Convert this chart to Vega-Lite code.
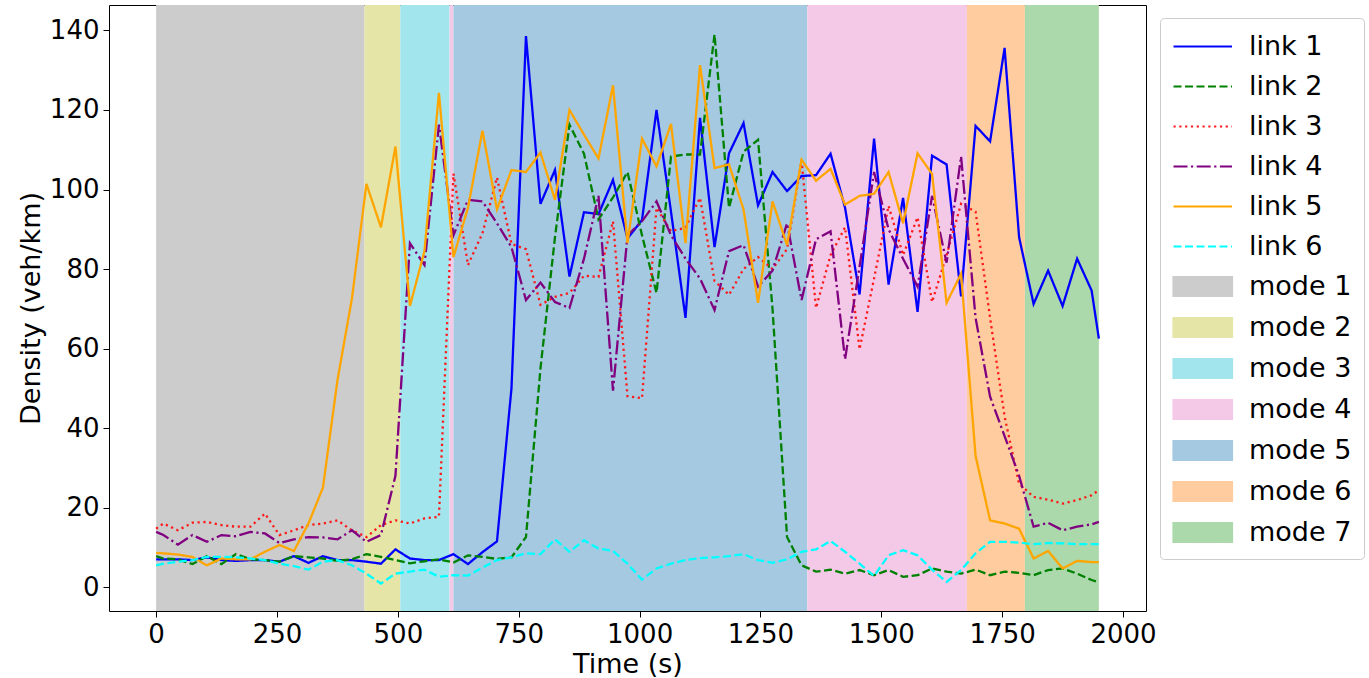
{
  "$schema": "https://vega.github.io/schema/vega-lite/v6.json",
  "width": 1037,
  "height": 606,
  "autosize": {"type": "none"},
  "padding": {"left": 109, "top": 5, "right": 223, "bottom": 67},
  "config": {
    "font": "DejaVu Sans",
    "view": {"stroke": "#000000", "strokeWidth": 1},
    "axis": {"grid": false, "domain": false, "labelFont": "DejaVu Sans", "titleFont": "DejaVu Sans", "labelFontSize": 26, "titleFontSize": 27, "titleFontWeight": "normal", "labelColor": "#000000", "titleColor": "#000000", "tickColor": "#000000", "tickSize": 6, "labelPadding": 4}
  },
  "datasets": {
    "bands": [
      {"series": "mode 1", "start": 0, "end": 431},
      {"series": "mode 2", "start": 431, "end": 505},
      {"series": "mode 3", "start": 505, "end": 607},
      {"series": "mode 4", "start": 607, "end": 615},
      {"series": "mode 5", "start": 615, "end": 1347},
      {"series": "mode 4", "start": 1347, "end": 1677},
      {"series": "mode 6", "start": 1677, "end": 1797},
      {"series": "mode 7", "start": 1797, "end": 1950}
    ],
    "density": [
      {"t": 0, "link 1": 7.0, "link 2": 7.8, "link 3": 14.7, "link 4": 13.9, "link 5": 8.6, "link 6": 5.5},
      {"t": 15, "link 1": 7.0, "link 2": 7.2, "link 3": 16.0, "link 4": 13.1, "link 5": 8.5, "link 6": 5.9},
      {"t": 45, "link 1": 7.0, "link 2": 7.0, "link 3": 14.3, "link 4": 10.7, "link 5": 8.2, "link 6": 6.4},
      {"t": 75, "link 1": 6.8, "link 2": 5.8, "link 3": 16.2, "link 4": 13.1, "link 5": 7.6, "link 6": 6.8},
      {"t": 105, "link 1": 7.5, "link 2": 7.8, "link 3": 16.4, "link 4": 11.4, "link 5": 5.5, "link 6": 7.6},
      {"t": 135, "link 1": 6.8, "link 2": 5.8, "link 3": 15.6, "link 4": 13.1, "link 5": 7.2, "link 6": 7.6},
      {"t": 165, "link 1": 6.6, "link 2": 8.3, "link 3": 15.2, "link 4": 12.8, "link 5": 7.0, "link 6": 7.5},
      {"t": 195, "link 1": 6.8, "link 2": 7.0, "link 3": 15.2, "link 4": 13.9, "link 5": 7.0, "link 6": 7.2},
      {"t": 225, "link 1": 6.8, "link 2": 6.8, "link 3": 18.5, "link 4": 13.5, "link 5": 8.9, "link 6": 6.8},
      {"t": 255, "link 1": 6.4, "link 2": 6.4, "link 3": 13.1, "link 4": 11.1, "link 5": 10.6, "link 6": 5.9},
      {"t": 285, "link 1": 7.8, "link 2": 7.8, "link 3": 14.3, "link 4": 12.0, "link 5": 9.1, "link 6": 5.3},
      {"t": 315, "link 1": 6.1, "link 2": 7.5, "link 3": 15.6, "link 4": 12.6, "link 5": 16, "link 6": 4.4},
      {"t": 345, "link 1": 7.8, "link 2": 7.2, "link 3": 16.0, "link 4": 12.5, "link 5": 25, "link 6": 6.4},
      {"t": 375, "link 1": 6.8, "link 2": 6.6, "link 3": 16.8, "link 4": 12.0, "link 5": 52, "link 6": 6.8},
      {"t": 405, "link 1": 6.8, "link 2": 7.0, "link 3": 14.3, "link 4": 14.3, "link 5": 72.6, "link 6": 5.5},
      {"t": 435, "link 1": 6.4, "link 2": 8.3, "link 3": 12.6, "link 4": 11.4, "link 5": 101.4, "link 6": 3.4},
      {"t": 465, "link 1": 5.9, "link 2": 7.6, "link 3": 15.6, "link 4": 13.1, "link 5": 90.5, "link 6": 0.9},
      {"t": 495, "link 1": 9.5, "link 2": 6.8, "link 3": 16.8, "link 4": 28, "link 5": 110.8, "link 6": 3.4},
      {"t": 525, "link 1": 7.2, "link 2": 6.0, "link 3": 16.0, "link 4": 86.5, "link 5": 70.7, "link 6": 3.9},
      {"t": 555, "link 1": 6.8, "link 2": 6.5, "link 3": 17.3, "link 4": 81, "link 5": 84.5, "link 6": 4.4},
      {"t": 585, "link 1": 6.8, "link 2": 7.0, "link 3": 17.7, "link 4": 116.3, "link 5": 124.3, "link 6": 2.6},
      {"t": 615, "link 1": 8.3, "link 2": 6.2, "link 3": 104, "link 4": 88.5, "link 5": 83, "link 6": 3.0},
      {"t": 645, "link 1": 5.8, "link 2": 8.0, "link 3": 81, "link 4": 97.4, "link 5": 95.4, "link 6": 2.9},
      {"t": 675, "link 1": 8.8, "link 2": 7.6, "link 3": 89, "link 4": 97, "link 5": 114.8, "link 6": 4.9},
      {"t": 705, "link 1": 11.5, "link 2": 7.1, "link 3": 103, "link 4": 91.5, "link 5": 95, "link 6": 6.8},
      {"t": 735, "link 1": 50, "link 2": 7.5, "link 3": 86.3, "link 4": 85.5, "link 5": 104.9, "link 6": 7.5},
      {"t": 765, "link 1": 138.6, "link 2": 12.6, "link 3": 85, "link 4": 72.2, "link 5": 104.4, "link 6": 8.5},
      {"t": 795, "link 1": 96.4, "link 2": 55, "link 3": 71, "link 4": 76.6, "link 5": 109.3, "link 6": 8.3},
      {"t": 825, "link 1": 104.9, "link 2": 88, "link 3": 73, "link 4": 71.7, "link 5": 97.4, "link 6": 12.0},
      {"t": 855, "link 1": 78.1, "link 2": 116.3, "link 3": 74, "link 4": 70.2, "link 5": 120, "link 6": 8.9},
      {"t": 885, "link 1": 94.3, "link 2": 109, "link 3": 78.3, "link 4": 82.6, "link 5": 113.8, "link 6": 11.8},
      {"t": 915, "link 1": 93.8, "link 2": 92.5, "link 3": 78, "link 4": 98.4, "link 5": 107.8, "link 6": 9.7},
      {"t": 945, "link 1": 102.4, "link 2": 98, "link 3": 92, "link 4": 49.4, "link 5": 126.2, "link 6": 9.1},
      {"t": 975, "link 1": 87.7, "link 2": 104.4, "link 3": 48, "link 4": 88.5, "link 5": 86.5, "link 6": 5.9},
      {"t": 1005, "link 1": 92.3, "link 2": 88.5, "link 3": 47.5, "link 4": 92, "link 5": 112.8, "link 6": 1.9},
      {"t": 1035, "link 1": 120, "link 2": 74, "link 3": 95.4, "link 4": 97, "link 5": 105.8, "link 6": 4.7},
      {"t": 1065, "link 1": 94.4, "link 2": 108.3, "link 3": 89.5, "link 4": 88.5, "link 5": 116.5, "link 6": 5.9},
      {"t": 1095, "link 1": 67.7, "link 2": 108.8, "link 3": 90.4, "link 4": 82.6, "link 5": 86.5, "link 6": 6.8},
      {"t": 1125, "link 1": 118, "link 2": 108.8, "link 3": 97.9, "link 4": 77.6, "link 5": 131.3, "link 6": 7.3},
      {"t": 1155, "link 1": 85.5, "link 2": 139, "link 3": 77, "link 4": 69.7, "link 5": 105.4, "link 6": 7.5},
      {"t": 1185, "link 1": 109.1, "link 2": 95.4, "link 3": 73.5, "link 4": 84.5, "link 5": 106.3, "link 6": 7.8},
      {"t": 1215, "link 1": 116.7, "link 2": 109.5, "link 3": 80, "link 4": 86, "link 5": 95, "link 6": 8.3},
      {"t": 1245, "link 1": 96, "link 2": 112.5, "link 3": 83, "link 4": 75.6, "link 5": 71.5, "link 6": 6.8},
      {"t": 1275, "link 1": 104.4, "link 2": 70, "link 3": 80, "link 4": 79.6, "link 5": 97, "link 6": 6.1},
      {"t": 1305, "link 1": 99.6, "link 2": 12.6, "link 3": 85, "link 4": 91.5, "link 5": 86, "link 6": 7.0},
      {"t": 1335, "link 1": 103.4, "link 2": 5.5, "link 3": 107.3, "link 4": 72.2, "link 5": 107.5, "link 6": 8.9},
      {"t": 1365, "link 1": 103.6, "link 2": 3.9, "link 3": 70.2, "link 4": 87.5, "link 5": 102.2, "link 6": 9.5},
      {"t": 1395, "link 1": 109, "link 2": 4.4, "link 3": 83.5, "link 4": 89.5, "link 5": 105.2, "link 6": 11.6},
      {"t": 1425, "link 1": 95.4, "link 2": 3.4, "link 3": 90.5, "link 4": 57.3, "link 5": 96.2, "link 6": 8.9},
      {"t": 1455, "link 1": 73.6, "link 2": 4.3, "link 3": 59.8, "link 4": 80.6, "link 5": 98.4, "link 6": 5.9},
      {"t": 1485, "link 1": 112.8, "link 2": 3.0, "link 3": 77.6, "link 4": 104.4, "link 5": 98.9, "link 6": 2.8},
      {"t": 1515, "link 1": 76.1, "link 2": 4.3, "link 3": 95.9, "link 4": 90, "link 5": 104.4, "link 6": 8.0},
      {"t": 1545, "link 1": 97.9, "link 2": 2.6, "link 3": 83.5, "link 4": 82.6, "link 5": 91.5, "link 6": 9.3},
      {"t": 1575, "link 1": 69.2, "link 2": 3.0, "link 3": 93, "link 4": 75.6, "link 5": 109.1, "link 6": 8.0},
      {"t": 1605, "link 1": 108.5, "link 2": 4.7, "link 3": 71.7, "link 4": 98.4, "link 5": 103.9, "link 6": 4.4},
      {"t": 1635, "link 1": 106.3, "link 2": 3.9, "link 3": 83.5, "link 4": 81.6, "link 5": 71.5, "link 6": 1.3},
      {"t": 1665, "link 1": 73.1, "link 2": 3.4, "link 3": 96.4, "link 4": 108.3, "link 5": 78.8, "link 6": 4.3},
      {"t": 1695, "link 1": 116, "link 2": 4.4, "link 3": 94.4, "link 4": 67.7, "link 5": 33, "link 6": 8.5},
      {"t": 1725, "link 1": 112.1, "link 2": 3.0, "link 3": 67.7, "link 4": 47.9, "link 5": 16.8, "link 6": 11.4},
      {"t": 1755, "link 1": 135.6, "link 2": 3.9, "link 3": 42.9, "link 4": 38, "link 5": 16.0, "link 6": 11.4},
      {"t": 1785, "link 1": 88, "link 2": 3.6, "link 3": 26, "link 4": 28, "link 5": 14.7, "link 6": 11.2},
      {"t": 1815, "link 1": 71.2, "link 2": 3.0, "link 3": 22.7, "link 4": 15.2, "link 5": 7.2, "link 6": 10.8},
      {"t": 1845, "link 1": 79.6, "link 2": 4.3, "link 3": 22, "link 4": 16.2, "link 5": 9.1, "link 6": 11.1},
      {"t": 1875, "link 1": 70.7, "link 2": 4.7, "link 3": 21, "link 4": 14.3, "link 5": 4.7, "link 6": 11.0},
      {"t": 1905, "link 1": 82.6, "link 2": 3.4, "link 3": 21.9, "link 4": 15.2, "link 5": 6.6, "link 6": 10.8},
      {"t": 1935, "link 1": 74.6, "link 2": 1.8, "link 3": 23.1, "link 4": 15.8, "link 5": 6.3, "link 6": 10.8},
      {"t": 1950, "link 1": 62.5, "link 2": 1.2, "link 3": 24.4, "link 4": 16.4, "link 5": 6.3, "link 6": 10.8}
    ]
  },
  "layer": [
    {
      "data": {"name": "bands"},
      "mark": {"type": "rect"},
      "encoding": {
        "x": {"field": "start", "type": "quantitative", "scale": {"domain": [-97.5, 2047.5], "nice": false, "zero": false}, "axis": {"title": "Time (s)", "format": "d", "values": [0, 250, 500, 750, 1000, 1250, 1500, 1750, 2000]}},
        "x2": {"field": "end"},
        "color": {
          "field": "series", "type": "nominal",
          "scale": {
            "domain": ["link 1", "link 2", "link 3", "link 4", "link 5", "link 6", "mode 1", "mode 2", "mode 3", "mode 4", "mode 5", "mode 6", "mode 7"],
            "range": ["#0000ff", "#008000", "#ff1a1a", "#800080", "#ffa500", "#00ffff", "#cccccc", "#e4e5a7", "#a2e5ec", "#f4c9e7", "#a5c9e1", "#ffcc9f", "#abd9ab"]
          },
          "legend": {
            "title": null, "orient": "none", "legendX": 1051, "legendY": 13,
            "strokeColor": "#cccccc", "fillColor": "#ffffff", "cornerRadius": 4, "padding": 12,
            "labelFontSize": 27, "labelFont": "DejaVu Sans", "labelColor": "#000000", "labelLimit": 300,
            "symbolSize": 900, "labelOffset": 44, "rowPadding": 10, "symbolStrokeWidth": 2.2, "symbolOpacity": 1,
            "symbolType": {"expr": "indexof(datum.value, 'link') === 0 ? 'M-1,0H2.9' : 'M-1,-0.63H2.9V0.63H-1Z'"},
            "symbolDash": {"expr": "(datum.value === 'link 2' || datum.value === 'link 6') ? [8, 3.5] : datum.value === 'link 3' ? [2.2, 3.6] : datum.value === 'link 4' ? [14, 3.5, 2.2, 3.5] : [1, 0]"}
          }
        }
      }
    },
    {
      "data": {"name": "density"},
      "transform": [{"fold": ["link 1", "link 2", "link 3", "link 4", "link 5", "link 6"], "as": ["series", "v"]}],
      "mark": {"type": "line", "strokeWidth": 2.3},
      "encoding": {
        "x": {"field": "t", "type": "quantitative", "axis": {"title": "Time (s)", "format": "d"}},
        "y": {"field": "v", "type": "quantitative", "scale": {"domain": [-6, 146.4], "nice": false, "zero": false}, "axis": {"title": "Density (veh/km)", "values": [0, 20, 40, 60, 80, 100, 120, 140]}},
        "color": {"field": "series", "type": "nominal"},
        "strokeDash": {
          "field": "series", "type": "nominal",
          "scale": {"domain": ["link 1", "link 2", "link 3", "link 4", "link 5", "link 6"], "range": [[1, 0], [8, 3.5], [2.2, 3.6], [14, 3.5, 2.2, 3.5], [1, 0], [8, 3.5]]},
          "legend": null
        }
      }
    }
  ]
}
